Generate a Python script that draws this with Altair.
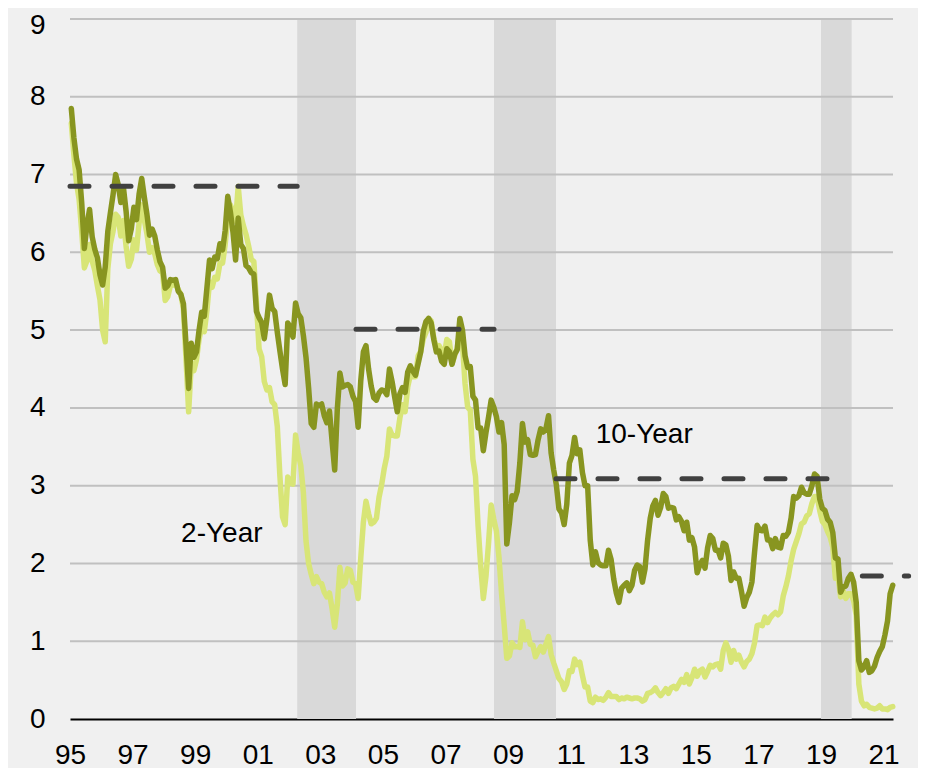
import altair as alt
import pandas as pd

# ---------------- data (monthly yields, %, Jan 1995 - Apr 2021) ----------------
T10 = [
    7.85, 7.47, 7.20, 7.06, 6.63, 6.05, 6.35, 6.55, 6.20, 6.04, 5.93, 5.71,  # 1995
    5.58, 5.81, 6.27, 6.51, 6.74, 7.00, 6.87, 6.64, 6.83, 6.53, 6.15, 6.30,  # 1996
    6.58, 6.42, 6.75, 6.95, 6.71, 6.49, 6.22, 6.30, 6.21, 6.03, 5.88, 5.81,  # 1997
    5.54, 5.57, 5.65, 5.64, 5.65, 5.50, 5.46, 5.34, 4.81, 4.25, 4.83, 4.65,  # 1998
    4.72, 5.00, 5.23, 5.18, 5.54, 5.90, 5.79, 5.94, 5.92, 6.11, 6.03, 6.28,  # 1999
    6.72, 6.52, 6.26, 5.90, 6.44, 6.10, 6.05, 5.83, 5.80, 5.74, 5.72, 5.24,  # 2000
    5.16, 5.10, 4.89, 5.14, 5.45, 5.28, 5.24, 4.97, 4.73, 4.50, 4.30, 5.09,  # 2001
    5.04, 4.91, 5.35, 5.21, 5.16, 4.93, 4.65, 4.26, 3.80, 3.75, 4.05, 4.03,  # 2002
    4.05, 3.90, 3.81, 3.96, 3.57, 3.20, 3.98, 4.45, 4.27, 4.29, 4.30, 4.27,  # 2003
    4.15, 4.08, 3.75, 4.35, 4.72, 4.80, 4.50, 4.28, 4.13, 4.10, 4.19, 4.23,  # 2004
    4.22, 4.17, 4.50, 4.34, 4.14, 3.95, 4.18, 4.26, 4.20, 4.46, 4.54, 4.47,  # 2005
    4.42, 4.57, 4.72, 4.99, 5.11, 5.15, 5.09, 4.88, 4.72, 4.73, 4.60, 4.56,  # 2006
    4.76, 4.72, 4.56, 4.69, 4.75, 5.15, 5.00, 4.67, 4.52, 4.53, 4.15, 4.10,  # 2007
    3.74, 3.74, 3.45, 3.68, 3.88, 4.10, 4.01, 3.89, 3.69, 3.81, 3.53, 2.25,  # 2008
    2.52, 2.87, 2.82, 2.93, 3.29, 3.80, 3.56, 3.59, 3.40, 3.39, 3.40, 3.59,  # 2009
    3.73, 3.69, 3.73, 3.90, 3.42, 3.20, 3.01, 2.70, 2.65, 2.50, 2.76, 3.29,  # 2010
    3.39, 3.62, 3.41, 3.46, 3.17, 3.00, 3.00, 2.30, 1.98, 2.15, 2.01, 1.98,  # 2011
    1.97, 1.97, 2.17, 2.05, 1.80, 1.62, 1.50, 1.68, 1.72, 1.75, 1.65, 1.72,  # 2012
    1.91, 1.98, 1.96, 1.76, 1.93, 2.30, 2.58, 2.74, 2.81, 2.62, 2.72, 2.90,  # 2013
    2.86, 2.71, 2.72, 2.71, 2.56, 2.60, 2.54, 2.42, 2.53, 2.30, 2.33, 2.21,  # 2014
    1.88, 1.98, 2.04, 1.94, 2.20, 2.36, 2.32, 2.17, 2.17, 2.07, 2.26, 2.24,  # 2015
    2.09, 1.78, 1.89, 1.81, 1.81, 1.64, 1.45, 1.56, 1.63, 1.76, 2.14, 2.49,  # 2016
    2.43, 2.42, 2.48, 2.30, 2.30, 2.19, 2.32, 2.21, 2.20, 2.36, 2.35, 2.40,  # 2017
    2.58, 2.86, 2.84, 2.87, 2.98, 2.91, 2.89, 2.89, 3.00, 3.15, 3.12, 2.83,  # 2018
    2.71, 2.68, 2.57, 2.53, 2.40, 2.07, 2.06, 1.63, 1.70, 1.71, 1.81, 1.86,  # 2019
    1.76, 1.50, 0.75, 0.63, 0.67, 0.75, 0.60, 0.62, 0.68, 0.79, 0.87, 0.93,  # 2020
    1.08, 1.26, 1.61, 1.72,                                                  # 2021
]

T2 = [
    7.66, 7.25, 6.89, 6.68, 6.27, 5.80, 5.89, 6.10, 5.89, 5.77, 5.57, 5.39,  # 1995
    5.00, 4.85, 5.79, 6.11, 6.27, 6.49, 6.45, 6.21, 6.41, 6.08, 5.82, 5.91,  # 1996
    6.16, 6.03, 6.38, 6.61, 6.42, 6.24, 6.00, 6.06, 5.98, 5.84, 5.76, 5.74,  # 1997
    5.38, 5.43, 5.57, 5.58, 5.61, 5.52, 5.46, 5.27, 4.62, 3.95, 4.57, 4.48,  # 1998
    4.62, 4.88, 5.05, 4.98, 5.25, 5.62, 5.55, 5.68, 5.66, 5.86, 5.86, 6.10,  # 1999
    6.44, 6.61, 6.53, 6.40, 6.85, 6.48, 6.34, 6.23, 6.08, 5.91, 5.88, 5.35,  # 2000
    4.76, 4.66, 4.34, 4.23, 4.26, 4.08, 4.04, 3.76, 3.12, 2.60, 2.50, 3.11,  # 2001
    3.03, 3.02, 3.65, 3.42, 3.26, 2.91, 2.29, 2.00, 1.86, 1.74, 1.83, 1.76,  # 2002
    1.74, 1.63, 1.57, 1.62, 1.42, 1.18, 1.47, 1.95, 1.71, 1.75, 1.93, 1.91,  # 2003
    1.76, 1.74, 1.55, 2.07, 2.53, 2.80, 2.64, 2.51, 2.53, 2.58, 2.85, 3.01,  # 2004
    3.22, 3.38, 3.73, 3.65, 3.64, 3.64, 3.87, 4.04, 3.95, 4.27, 4.42, 4.40,  # 2005
    4.40, 4.67, 4.73, 4.89, 4.97, 5.15, 5.12, 4.90, 4.77, 4.80, 4.74, 4.67,  # 2006
    4.88, 4.85, 4.57, 4.67, 4.77, 5.00, 4.82, 4.31, 4.01, 3.97, 3.34, 3.12,  # 2007
    2.48, 1.97, 1.55, 1.83, 2.26, 2.75, 2.57, 2.42, 2.08, 1.61, 1.21, 0.78,  # 2008
    0.81, 0.98, 0.93, 0.93, 0.92, 1.25, 1.02, 1.12, 0.96, 0.95, 0.80, 0.87,  # 2009
    0.93, 0.86, 0.96, 1.06, 0.83, 0.72, 0.62, 0.52, 0.48, 0.38, 0.45, 0.62,  # 2010
    0.61, 0.77, 0.70, 0.73, 0.56, 0.41, 0.41, 0.23, 0.21, 0.28, 0.25, 0.26,  # 2011
    0.24, 0.28, 0.34, 0.29, 0.29, 0.29, 0.25, 0.27, 0.26, 0.28, 0.27, 0.26,  # 2012
    0.27, 0.27, 0.26, 0.23, 0.25, 0.33, 0.34, 0.36, 0.40, 0.34, 0.30, 0.34,  # 2013
    0.39, 0.33, 0.40, 0.42, 0.39, 0.45, 0.51, 0.47, 0.57, 0.45, 0.53, 0.64,  # 2014
    0.55, 0.62, 0.64, 0.54, 0.61, 0.69, 0.67, 0.70, 0.71, 0.64, 0.88, 0.98,  # 2015
    0.90, 0.73, 0.88, 0.77, 0.82, 0.73, 0.67, 0.74, 0.77, 0.84, 0.98, 1.20,  # 2016
    1.21, 1.20, 1.31, 1.24, 1.30, 1.34, 1.37, 1.34, 1.38, 1.58, 1.70, 1.84,  # 2017
    2.03, 2.18, 2.28, 2.38, 2.51, 2.53, 2.61, 2.64, 2.77, 2.86, 2.86, 2.68,  # 2018
    2.54, 2.50, 2.41, 2.34, 2.21, 1.81, 1.84, 1.57, 1.65, 1.55, 1.61, 1.61,  # 2019
    1.52, 1.33, 0.45, 0.23, 0.17, 0.19, 0.15, 0.14, 0.13, 0.14, 0.17, 0.13,  # 2020
    0.13, 0.12, 0.15, 0.16,                                                  # 2021
]

START_YEAR = 1995

# shaded periods (decimal years)
BAND_START = [2002.26, 2008.55, 2019.00]
BAND_END = [2004.14, 2010.53, 2019.98]

# dashed reference levels
DASH_START = [1995.00, 2004.14, 2010.53, 2020.32]
DASH_END = [2002.26, 2008.55, 2019.30, 2021.80]
DASH_LEVEL = [6.85, 5.01, 3.09, 1.84]

GRID_VALUES = [1, 2, 3, 4, 5, 6, 7, 8, 9]
Y_TICKS = [0, 1, 2, 3, 4, 5, 6, 7, 8, 9]
X_TICKS = list(range(1995, 2022, 2))

LABEL_TEXT = ["10-Year", "2-Year"]
LABEL_X = [2011.8, 1998.55]
LABEL_Y = [3.55, 2.27]

# ---------------- styling ----------------
DARK = "#889520"
LIGHT = "#d8e577"
BAND = "#d9d9d9"
GRID = "#c0c0c0"
DASH = "#404040"
BG = "#f0f0f0"
FONT = "Liberation Sans"
FS = 28

X_DOMAIN = [1995.0, 2021.3]
Y_DOMAIN = [0, 9]


def month_x(n):
    return [START_YEAR + (i + 0.5) / 12.0 for i in range(n)]


df10 = pd.DataFrame({"x": month_x(len(T10)), "v": T10})
df2 = pd.DataFrame({"x": month_x(len(T2)), "v": T2})
bands = pd.DataFrame({"s": BAND_START, "e": BAND_END})
dashes = pd.DataFrame({"s": DASH_START, "e": DASH_END, "v": DASH_LEVEL})
grid = pd.DataFrame({"v": GRID_VALUES})
labels = pd.DataFrame({"x": LABEL_X, "v": LABEL_Y, "t": LABEL_TEXT})

xs = alt.Scale(domain=X_DOMAIN, nice=False, zero=False)
ys = alt.Scale(domain=Y_DOMAIN, nice=False, zero=False)

x_axis = alt.Axis(
    values=X_TICKS,
    labelExpr="substring(toString(datum.value), 2, 4)",
    grid=False, ticks=False, domain=True, domainColor="#000000", domainWidth=2,
    labelFontSize=FS, labelColor="#000000", labelFont=FONT, labelPadding=22,
    labelFlush=False, labelOverlap=False, title=None,
)
y_axis = alt.Axis(
    values=Y_TICKS, grid=False, ticks=False, domain=False,
    labelFontSize=FS, labelColor="#000000", labelFont=FONT, labelPadding=25,
    labelOffset={"condition": {"test": "datum.value == 9", "value": 6}, "value": 0},
    title=None,
)

X_ENC = lambda f: alt.X(f, scale=xs, axis=x_axis, title=None)
Y_ENC = lambda f: alt.Y(f, scale=ys, axis=y_axis, title=None)

band_layer = alt.Chart(bands).mark_rect(color=BAND).encode(
    x=X_ENC("s:Q"),
    x2="e:Q",
    y=alt.Y(datum=0, scale=ys, axis=y_axis, title=None),
    y2=alt.Y2(datum=9),
)

grid_layer = alt.Chart(grid).mark_rule(color=GRID, strokeWidth=2).encode(
    y=Y_ENC("v:Q"),
)

line2 = alt.Chart(df2).mark_line(
    color=LIGHT, strokeWidth=5.5, strokeJoin="round", strokeCap="round"
).encode(
    x=X_ENC("x:Q"),
    y=Y_ENC("v:Q"),
)

line10 = alt.Chart(df10).mark_line(
    color=DARK, strokeWidth=5.5, strokeJoin="round", strokeCap="round"
).encode(
    x=X_ENC("x:Q"),
    y=Y_ENC("v:Q"),
)

dash_layer = alt.Chart(dashes).mark_rule(
    color=DASH, strokeWidth=5, strokeDash=[19, 23], strokeCap="round"
).encode(
    x=X_ENC("s:Q"),
    x2="e:Q",
    y=Y_ENC("v:Q"),
)

label_layer = alt.Chart(labels).mark_text(
    align="left", baseline="alphabetic", fontSize=FS, font=FONT, color="#000000"
).encode(
    x=X_ENC("x:Q"),
    y=Y_ENC("v:Q"),
    text="t:N",
)

chart = alt.layer(
    band_layer, grid_layer, line2, line10, dash_layer, label_layer
).properties(
    width=823,
    height=700,
    padding={"left": 62, "top": 11, "right": 25, "bottom": 49},
    autosize=alt.AutoSizeParams(type="none"),
    background=BG,
).configure_view(
    stroke=None
)

chart.save("out.html", embed_options={"renderer": "svg", "actions": False})
